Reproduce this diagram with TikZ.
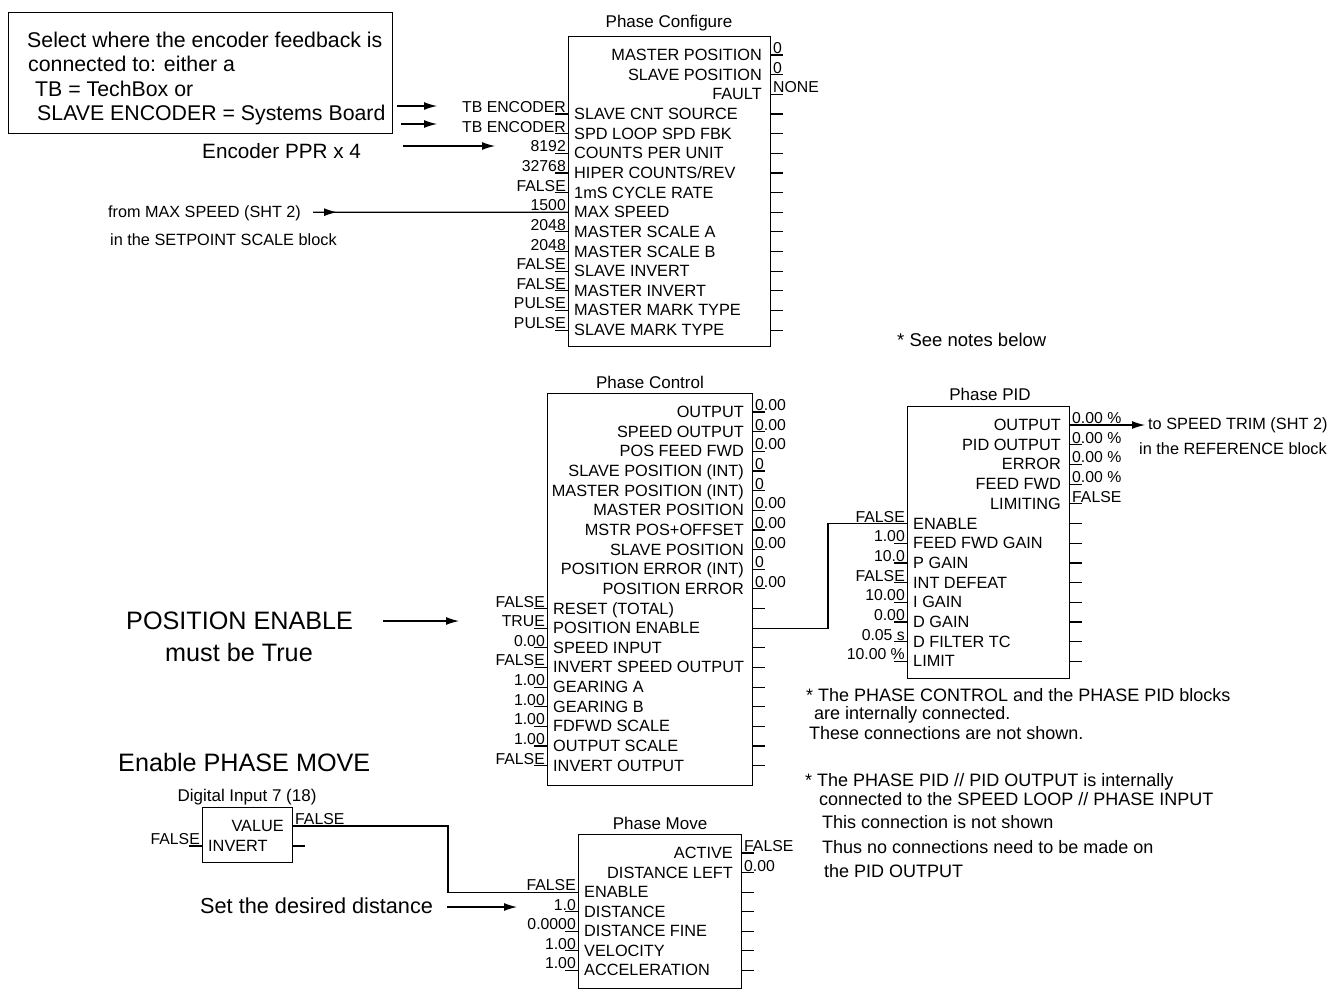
\documentclass[tikz,border=0pt]{standalone}
\usepackage{fontspec}
\setmainfont{Liberation Sans}
\usetikzlibrary{arrows.meta}
\newcommand\fsz[1]{\fontsize{#1}{#1}\selectfont}
\tikzset{
 lbl/.style={inner sep=0pt, font=\fsz{16.3}},
 val/.style={inner sep=0pt, font=\fsz{15.8}},
 ttl/.style={inner sep=0pt, font=\fsz{17}},
 note/.style={inner sep=0pt, font=\fsz{18}, anchor=base west},
 big/.style={inner sep=0pt, font=\fsz{25.2}},
 fbox/.style={draw, line width=1.4pt, inner sep=0pt, anchor=north west},
 wire/.style={line width=1.2pt},
 stub/.style={line width=1.2pt},
 arr/.style={line width=1.2pt, -{Latex[length=13pt,width=8pt]}},
}
\newcommand\outrows[6]{%
 \foreach \lab/\val [count=\i from #5] in {#6} {%
  \pgfmathsetmacro\yy{#3+(\i)*#4}
  \coordinate (#1-out\i) at (#2,\yy);
  \node[lbl,anchor=base east] (#1-l\i) at (#2-8,\yy+5.5) {\lab};
  \node[val,anchor=base west] (#1-v\i) at (#2+3,\yy-1.5) {\val};
  \draw[stub] (#1-out\i) -- ++(13,0);
 }}
\newcommand\inrows[7]{%
 \foreach \lab/\val [count=\i from #6] in {#7} {%
  \pgfmathsetmacro\yy{#4+(\i)*#5}
  \coordinate (#1-in\i) at (#2,\yy);
  \coordinate (#1-out\i) at (#3,\yy);
  \node[lbl,anchor=base west] (#1-l\i) at (#2+6,\yy+5.5) {\lab};
  \node[val,anchor=base east] (#1-v\i) at (#2-2,\yy-1.5) {\val};
  \draw[stub] (#1-in\i) -- ++(-13,0);
  \draw[stub] (#1-out\i) -- ++(13,0);
 }}
\begin{document}
\begin{tikzpicture}[x=1pt,y=-1pt]
\useasboundingbox[fill=white] (0,0) rectangle (1331,991);

% ---------- note box ----------
\node[fbox, minimum width=384pt, minimum height=121pt] (nb) at (8,12) {};
\node[note, font=\fsz{21.3}] (t1) at (27,47) {Select where the encoder feedback is};
\node[note, font=\fsz{21.3}] (t2) at (28,71) {connected to: either a};
\node[note, font=\fsz{21.3}] (t3) at (35,96) {TB = TechBox or};
\node[note, font=\fsz{21.3}] (t4) at (37,120) {SLAVE ENCODER = Systems Board};
\node[note, font=\fsz{20.7}] (t5) at (202,158) {Encoder PPR x 4};
\node[note, font=\fsz{16.2}] (t6) at (108,217) {from MAX SPEED (SHT 2)};
\node[note, font=\fsz{16.3}] (t7) at (110,245) {in the SETPOINT SCALE block};

\coordinate (a1s) at (397,106); \coordinate (a1e) at (437,106);
\coordinate (a2s) at (401,124); \coordinate (a2e) at (437,124);
\coordinate (a3s) at (403,146); \coordinate (a3e) at (495,146);
\draw[arr] (a1s) -- (a1e);
\draw[arr] (a2s) -- (a2e);
\draw[arr] (a3s) -- (a3e);

% ---------- Phase Configure ----------
\node[fbox, minimum width=202pt, minimum height=310pt] (pcf) at (568,36) {};
\node[ttl] (pcf-t) at (669,23) {Phase Configure};
\outrows{pcf}{770}{55}{19.65}{0}{MASTER POSITION/0, SLAVE POSITION/0, FAULT/NONE}
\inrows{pcf}{568}{770}{55}{19.65}{3}{SLAVE CNT SOURCE/TB ENCODER, SPD LOOP SPD FBK/TB ENCODER, COUNTS PER UNIT/8192, {HIPER COUNTS/REV}/32768, 1mS CYCLE RATE/FALSE, MAX SPEED/1500, MASTER SCALE A/2048, MASTER SCALE B/2048, SLAVE INVERT/FALSE, MASTER INVERT/FALSE, MASTER MARK TYPE/PULSE, SLAVE MARK TYPE/PULSE}
\coordinate (ms) at (313,212.2);
\draw[wire] (pcf-in8) -- (ms);
\draw[arr] (ms) -- ++(24,0);

\node[note, font=\fsz{18.5}] (sn) at (897,346) {* See notes below};

% ---------- Phase Control ----------
\node[fbox, minimum width=205pt, minimum height=392pt] (pc) at (547,393) {};
\node[ttl] (pc-t) at (650,382) {Phase Control};
\outrows{pc}{752}{412}{19.65}{0}{OUTPUT/0.00, SPEED OUTPUT/0.00, POS FEED FWD/0.00, SLAVE POSITION (INT)/0, MASTER POSITION (INT)/0, MASTER POSITION/0.00, MSTR POS+OFFSET/0.00, SLAVE POSITION/0.00, POSITION ERROR (INT)/0, POSITION ERROR/0.00}
\inrows{pc}{547}{752}{412}{19.65}{10}{RESET (TOTAL)/FALSE, POSITION ENABLE/TRUE, SPEED INPUT/0.00, INVERT SPEED OUTPUT/FALSE, GEARING A/1.00, GEARING B/1.00, FDFWD SCALE/1.00, OUTPUT SCALE/1.00, INVERT OUTPUT/FALSE}

\node[big, anchor=base west] (pe1) at (126,629) {POSITION ENABLE};
\node[big, anchor=base] (pe2) at (239,661) {must be True};
\coordinate (a4s) at (383,621); \coordinate (a4e) at (459,621);
\draw[arr] (a4s) -- (a4e);

% ---------- Phase PID ----------
\node[fbox, minimum width=162pt, minimum height=272pt] (pid) at (907,406) {};
\node[ttl] (pid-t) at (990,394) {Phase PID};
\outrows{pid}{1069}{425}{19.7}{0}{OUTPUT/0.00 \%, PID OUTPUT/0.00 \%, ERROR/0.00 \%, FEED FWD/0.00 \%, LIMITING/FALSE}
\inrows{pid}{907}{1069}{425}{19.7}{5}{ENABLE/FALSE, FEED FWD GAIN/1.00, P GAIN/10.0, INT DEFEAT/FALSE, I GAIN/10.00, D GAIN/0.00, D FILTER TC/0.05 s, LIMIT/10.00 \%}
\coordinate (a5e) at (1145,425);
\draw[arr] (pid-out0) -- (a5e);
\node[lbl, anchor=base west] (st1) at (1148,429.5) {to SPEED TRIM (SHT 2)};
\node[lbl, anchor=base west] (st2) at (1139,454) {in the REFERENCE block};

\coordinate (j1) at (828,0);
\draw[wire] (pc-out11) -| (j1 |- pid-in5) -- (pid-in5);

% ---------- notes ----------
\node[note] (n1) at (806,701) {* The PHASE CONTROL and the PHASE PID blocks};
\node[note] (n2) at (814,719.5) {are internally connected.};
\node[note] (n3) at (809,739) {These connections are not shown.};
\node[note] (n4) at (805,786) {* The PHASE PID // PID OUTPUT is internally};
\node[note] (n5) at (819,805) {connected to the SPEED LOOP // PHASE INPUT};
\node[note] (n6) at (822,828) {This connection is not shown};
\node[note] (n7) at (822,853) {Thus no connections need to be made on};
\node[note] (n8) at (824,877) {the PID OUTPUT};

% ---------- Digital input ----------
\node[big, anchor=base west] (epm) at (118,771) {Enable PHASE MOVE};
\node[fbox, minimum width=90pt, minimum height=55pt] (di) at (202,807) {};
\node[ttl] (di-t) at (247,797) {Digital Input 7 (18)};
\outrows{di}{292}{826}{20}{0}{VALUE/FALSE}
\inrows{di}{202}{292}{826}{20}{1}{INVERT/FALSE}

% ---------- Phase Move ----------
\node[fbox, minimum width=163pt, minimum height=154pt] (pm) at (578,834) {};
\node[ttl] (pm-t) at (660,823) {Phase Move};
\outrows{pm}{741}{853}{19.55}{0}{ACTIVE/FALSE, DISTANCE LEFT/0.00}
\inrows{pm}{578}{741}{853}{19.55}{2}{ENABLE/FALSE, DISTANCE/1.0, DISTANCE FINE/0.0000, VELOCITY/1.00, ACCELERATION/1.00}

\coordinate (j2) at (448,0);
\draw[wire] (di-out0) -| (j2 |- pm-in2) -- (pm-in2);

\node[note, font=\fsz{21.7}] (sd) at (200,913) {Set the desired distance};
\coordinate (a6s) at (447,907); \coordinate (a6e) at (517,907);
\draw[arr] (a6s) -- (a6e);
\end{tikzpicture}
\end{document}
